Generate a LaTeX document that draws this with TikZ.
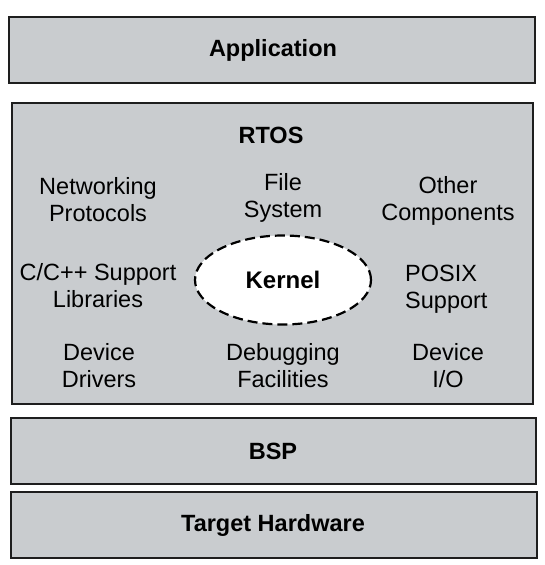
\documentclass[tikz,border=0pt]{standalone}
\usepackage{fontspec}
\setmainfont{Liberation Sans}
\usetikzlibrary{shapes.geometric}
\definecolor{layerfill}{RGB}{201,204,207}
\definecolor{layerline}{RGB}{30,30,30}
\tikzset{
  layer/.style={draw=layerline, fill=layerfill, line width=1.6pt},
  lbl/.style={inner sep=0pt, align=center, font=\fontsize{23.5}{27}\selectfont},
  title/.style={lbl, font=\fontsize{23.5}{27}\selectfont\bfseries},
  kernel/.style={ellipse, draw=black, fill=white, line width=2.2pt,
    dash pattern=on 10pt off 5pt, minimum width=176pt, minimum height=89pt,
    inner sep=0pt, font=\fontsize{24}{27}\selectfont\bfseries}
}
\begin{document}
\begin{tikzpicture}[x=1pt,y=-1pt]
\useasboundingbox (0,0) rectangle (545,565);
% layers
\draw[layer] (9,17) rectangle (535,83);
\draw[layer] (12,103) rectangle (533,404);
\draw[layer] (11,418) rectangle (536,484);
\draw[layer] (11,492) rectangle (537,558);
% titles
\node[title] (app) at (273,51) {\strut Application};
\node[title] (rtos) at (271,138.5) {\strut RTOS};
\node[title] (bsp) at (273,454) {\strut BSP};
\node[title] (hw) at (273,526) {\strut Target Hardware};
% kernel
\node[kernel] (kern) at (283,280) {Kernel};
% components
\node[lbl] (net) at (98,203) {\strut Networking\\Protocols\strut};
\node[lbl] (fs) at (283,198.5) {\strut File\\System\strut};
\node[lbl] (other) at (448,201.5) {\strut Other\\Components\strut};
\node[lbl] (cpp) at (98,289) {\strut C/C++ Support\\Libraries\strut};
\node[lbl, align=left, anchor=west] (posix) at (405,290) {\strut POSIX\\Support\strut};
\node[lbl] (drv) at (99,368.5) {\strut Device\\Drivers\strut};
\node[lbl] (dbg) at (283,368.5) {\strut Debugging\\Facilities\strut};
\node[lbl] (dio) at (448,368.5) {\strut Device\\I/O\strut};
\end{tikzpicture}
\end{document}
